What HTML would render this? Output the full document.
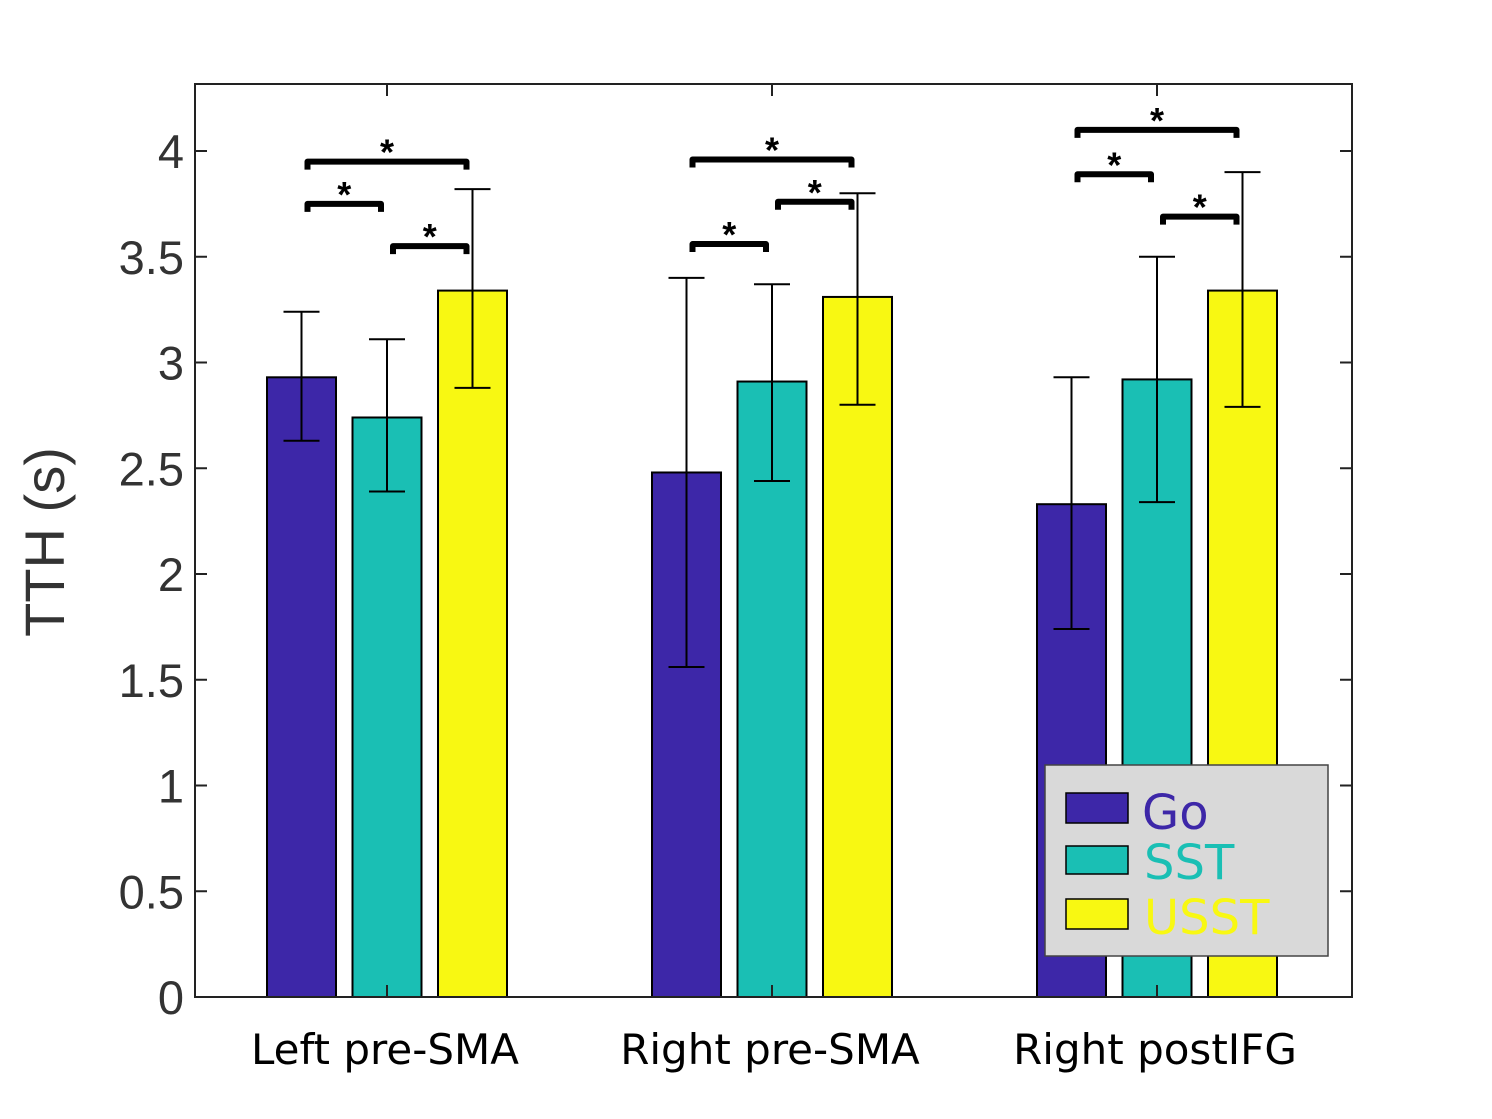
<!DOCTYPE html>
<html><head><meta charset="utf-8"><style>
body{margin:0;background:#fff;}
svg{display:block;}
</style></head><body>
<svg id="chart" width="1492" height="1119" xmlns="http://www.w3.org/2000/svg">
<rect x="0" y="0" width="1492" height="1119" fill="#fff"/>
<g id="marks"></g>
<rect x="195" y="84" width="1157" height="913" fill="none" stroke="#222" stroke-width="2"/>
<g id="axes"></g>
<text x="64" y="542" transform="rotate(-90 64 542)" text-anchor="middle" font-family="Liberation Sans, sans-serif" font-size="56" fill="#333">TTH (s)</text>
<g>
<rect x="1045" y="765" width="283" height="191" fill="#d9d9d9" stroke="#444" stroke-width="1.5"/>
<rect x="1066" y="793" width="62" height="30" fill="#3d27a8" stroke="#000" stroke-width="1.5"/>
<text x="1142" y="829" font-family="DejaVu Sans, sans-serif" font-size="48" fill="#3d27a8">Go</text>
<rect x="1066" y="846" width="62" height="28" fill="#1abfb4" stroke="#000" stroke-width="1.5"/>
<text x="1144" y="879" font-family="DejaVu Sans, sans-serif" font-size="48" fill="#1abfb4">SST</text>
<rect x="1066" y="899" width="62" height="30" fill="#f8f812" stroke="#000" stroke-width="1.5"/>
<text x="1144" y="934" font-family="DejaVu Sans, sans-serif" font-size="48" fill="#f8f812">USST</text>
</g>
</svg>
<script>
const categories=["Left pre-SMA","Right pre-SMA","Right postIFG"];
const seriesNames=["Go","SST","USST"];
const goValues=[2.93,2.48,2.33];
const sstValues=[2.74,2.91,2.92];
const usstValues=[3.34,3.31,3.34];
const goErrHigh=[3.24,3.40,2.93];
const goErrLow=[2.63,1.56,1.74];
const sstErrHigh=[3.11,3.37,3.50];
const sstErrLow=[2.39,2.44,2.34];
const usstErrHigh=[3.82,3.80,3.90];
const usstErrLow=[2.88,2.80,2.79];
const yTicks=[0,0.5,1,1.5,2,2.5,3,3.5,4];
const yTickLabels=["0","0.5","1","1.5","2","2.5","3","3.5","4"];
// significance brackets: [category, fromSeries, toSeries, level]
const brackets=[[0,0,2,3.95],[0,0,1,3.75],[0,1,2,3.55],[1,0,2,3.96],[1,0,1,3.56],[1,1,2,3.76],[2,0,2,4.10],[2,0,1,3.89],[2,1,2,3.69]];
const colors=["#3d27a8","#1abfb4","#f8f812"];
const NS="http://www.w3.org/2000/svg";
const y=v=>997-v*211.5;
const groupX=i=>387+i*385;
const barX=(i,s)=>groupX(i)+(s-1)*85.5;
function mk(tag,attrs,parent){const e=document.createElementNS(NS,tag);for(const k in attrs)e.setAttribute(k,attrs[k]);parent.appendChild(e);return e;}
const marks=document.getElementById('marks');
const axes=document.getElementById('axes');
const vals=[goValues,sstValues,usstValues],hi=[goErrHigh,sstErrHigh,usstErrHigh],lo=[goErrLow,sstErrLow,usstErrLow];
categories.forEach((c,i)=>{
  for(let s=0;s<3;s++){
    const cx=barX(i,s);
    const r=mk('rect',{x:cx-34.5,y:y(vals[s][i]),width:69,height:y(0)-y(vals[s][i]),fill:colors[s],stroke:'#000','stroke-width':2},marks);
    
    
    const g=mk('path',{d:`M${cx},${y(hi[s][i])}V${y(lo[s][i])}M${cx-18},${y(hi[s][i])}H${cx+18}M${cx-18},${y(lo[s][i])}H${cx+18}`,stroke:'#000','stroke-width':2,fill:'none'},marks);
    
    
  }
  const t=mk('text',{x:groupX(i)-2,y:1064,'text-anchor':'middle','font-family':'DejaVu Sans, sans-serif','font-size':42,fill:'#000'},axes);
  t.textContent=c;
  
  
  const tk=mk('path',{d:`M${groupX(i)},997v-12M${groupX(i)},84v12`,stroke:'#222','stroke-width':2},axes);
  
  
});
brackets.forEach(b=>{
  const x1=barX(b[0],b[1])+6,x2=barX(b[0],b[2])-6,yy=y(b[3]);
  const p=mk('path',{d:`M${x1},${yy+8}V${yy}H${x2}V${yy+8}`,stroke:'#000','stroke-width':6,fill:'none','stroke-linejoin':'round'},marks);
  
  
  const st=mk('text',{x:(x1+x2)/2,y:yy+3,'text-anchor':'middle','font-family':'Liberation Sans, sans-serif','font-size':36,'font-weight':'bold',fill:'#000'},marks);
  st.textContent='*';
  
  
});
yTicks.forEach((v,k)=>{
  const tk=mk('path',{d:`M195,${y(v)}h12M1352,${y(v)}h-12`,stroke:'#222','stroke-width':2},axes);
  
  
  const t=mk('text',{x:184,y:y(v)+17,'text-anchor':'end','font-family':'Liberation Sans, sans-serif','font-size':47,fill:'#333'},axes);
  t.textContent=yTickLabels[k];
  
  
});
</script>
</body></html>
